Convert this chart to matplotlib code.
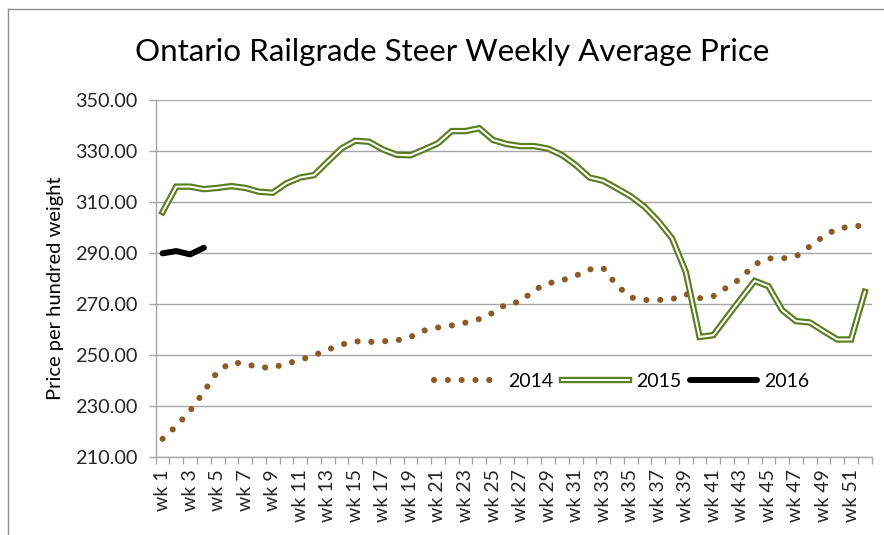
import matplotlib.pyplot as plt
from matplotlib.legend_handler import HandlerTuple
from matplotlib.lines import Line2D

plt.rcParams['font.family'] = ['Lato', 'DejaVu Sans']

# weekly average prices ($ per hundred weight)
weeks = ["wk %d" % i for i in range(1, 53)]

price_2014 = [217.0, 222.0, 228.0, 235.5, 243.5, 247.0, 246.5, 245.0, 245.0, 246.5,
              248.0, 249.8, 252.0, 254.0, 255.3, 255.0, 255.3, 255.6, 257.0, 259.5,
              260.7, 261.5, 262.6, 264.0, 266.5, 270.0, 270.8, 275.5, 278.0, 279.2,
              281.0, 283.5, 284.0, 277.2, 272.5, 271.5, 271.5, 271.8, 273.8, 272.2,
              273.0, 276.5, 280.0, 285.5, 287.8, 287.8, 288.6, 292.5, 296.5, 299.5,
              300.3, 300.8]

price_2015 = [306.0, 316.0, 316.0, 315.0, 315.5, 316.2, 315.5, 314.0, 313.6, 317.3,
              319.6, 320.5, 325.8, 331.0, 334.0, 333.6, 330.6, 328.5, 328.3, 330.6,
              333.0, 337.8, 337.8, 338.9, 334.3, 332.7, 331.9, 331.9, 330.9, 328.4,
              324.5, 319.6, 318.3, 315.3, 312.2, 308.1, 302.5, 295.7, 282.5, 257.0,
              257.7, 264.9, 272.0, 279.0, 276.9, 267.5, 263.2, 262.7, 259.3, 256.0,
              256.0, 274.7]

price_2016 = [289.8, 290.7, 289.4, 292.0]

yticks = [210, 230, 250, 270, 290, 310, 330, 350]

brown = '#8B5B23'
green = '#5B7D1F'
grid_c = '#A6A6A6'

fig = plt.figure(figsize=(8.84, 5.35), dpi=100)
ax = fig.add_axes([0.1761, 0.1464, 0.81, 0.6667])

x14 = range(len(price_2014))
x15 = range(len(price_2015))
x16 = range(len(price_2016))

l14, = ax.plot(x14, price_2014, color=brown, lw=4.4, ls=(0, (0.01, 2.25)),
               dash_capstyle='round', zorder=3)
g15, = ax.plot(x15, price_2015, color=green, lw=4.6, solid_joinstyle='miter', zorder=4)
w15, = ax.plot(x15, price_2015, color='white', lw=1.5, solid_joinstyle='miter', zorder=5)
l16, = ax.plot(x16, price_2016, color='black', lw=4.3, solid_capstyle='round',
               solid_joinstyle='round', zorder=6)

ax.set_xlim(-0.5, len(weeks) - 0.5)
ax.set_ylim(210, 350)
ax.set_yticks(yticks)
ax.set_yticklabels(["%.2f" % v for v in yticks])
ax.yaxis.grid(True, color=grid_c, lw=1.0)
ax.set_axisbelow(True)

# labels only on every other week, tick marks on category boundaries
ax.set_xticks(range(0, len(weeks), 2))
ax.set_xticklabels(weeks[::2], rotation=90, va='top', ha='center')
ax.set_xticks([i - 0.5 for i in range(len(weeks) + 1)], minor=True)
ax.tick_params(axis='x', which='major', length=0, pad=9, labelsize=14, colors='#262626')
ax.tick_params(axis='x', which='minor', length=5, width=1, color=grid_c)
ax.tick_params(axis='y', length=5, width=1, color=grid_c, pad=8, labelsize=14.3,
               labelcolor='#262626')

for s in ['top', 'right']:
    ax.spines[s].set_visible(False)
for s in ['left', 'bottom']:
    ax.spines[s].set_color(grid_c)
    ax.spines[s].set_linewidth(1.0)

fig.text(0.512, 0.903, "Ontario Railgrade Steer Weekly Average Price", ha='center',
         va='center', fontsize=22.6, color='black')
fig.text(0.0625, 0.462, "Price per hundred weight", rotation=90, ha='center',
         va='center', fontsize=14.5, color='black')

leg = ax.legend([l14, (g15, w15), l16], ['2014', '2015', '2016'],
                handler_map={tuple: HandlerTuple(ndivide=1, pad=0)},
                loc='center', bbox_to_anchor=(0.651, 0.212), ncol=3, frameon=False,
                fontsize=14, handlelength=3.45, handletextpad=0.35, columnspacing=0.45,
                borderpad=0.2)

# chart border (cropped on right and bottom)
fig.add_artist(Line2D([8 / 884, 8 / 884], [0, 1 - 9 / 535], transform=fig.transFigure,
                      color='#8C8C8C', lw=1))
fig.add_artist(Line2D([8 / 884, 1], [1 - 9 / 535, 1 - 9 / 535], transform=fig.transFigure,
                      color='#8C8C8C', lw=1))

fig.savefig('out.png', dpi=100)
